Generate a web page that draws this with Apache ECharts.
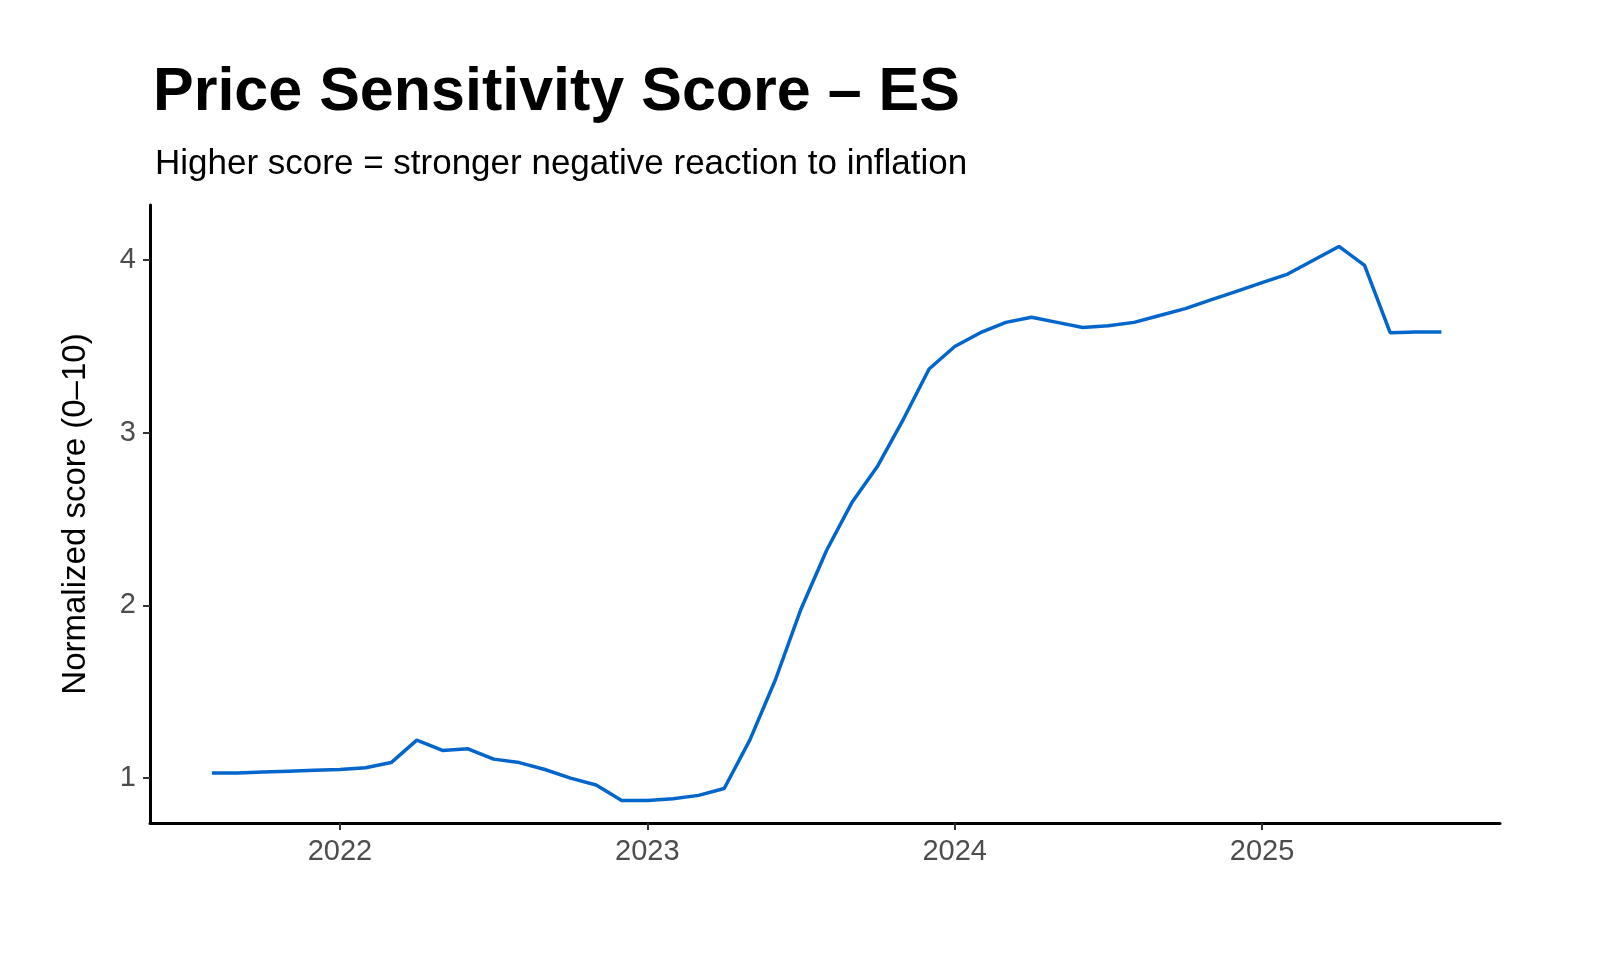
<!DOCTYPE html>
<html>
<head>
<meta charset="utf-8">
<script src="https://cdn.jsdelivr.net/npm/echarts@6/dist/echarts.min.js"></script>
<style>html,body{margin:0;background:#fff}#chart{width:1600px;height:960px}</style>
</head>
<body>
<div id="chart"></div>
<script>
// monthly scores, Aug 2021 .. Aug 2025
var months = []
for (var y = 2021; y <= 2025; y++) {
  for (var m = 1; m <= 12; m++) {
    if ((y == 2021 && m < 8) || (y == 2025 && m > 8)) continue
    months.push(y + '-' + (m < 10 ? '0' + m : m))
  }
}
var scores = [1.03, 1.03, 1.035, 1.04, 1.045,
  1.05, 1.06, 1.09, 1.22, 1.16, 1.17, 1.11, 1.09, 1.05, 1.00, 0.96, 0.87,
  0.87, 0.88, 0.90, 0.94, 1.22, 1.57, 1.98, 2.32, 2.60, 2.81, 3.08, 3.37,
  3.50, 3.58, 3.64, 3.67, 3.64, 3.61, 3.62, 3.64, 3.68, 3.72, 3.77, 3.82,
  3.87, 3.92, 4.00, 4.08, 3.97, 3.58, 3.585, 3.585]
var yearTicks = [2022, 2023, 2024, 2025]
var scoreTicks = [1, 2, 3, 4]

var seriesData = months.map(function (s, i) {
  var p = s.split('-')
  return [Number(p[0]) + (Number(p[1]) - 1) / 12, scores[i]]
})

var myChart = echarts.init(document.getElementById('chart'))
var labelFont = { color: '#4d4d4d', fontSize: 29, fontFamily: 'Liberation Sans' }
myChart.setOption({
  backgroundColor: '#fff',
  title: [{
    text: 'Price Sensitivity Score – ES', left: 148, top: 58,
    textStyle: { fontSize: 61, fontWeight: 'bold', color: '#000', fontFamily: 'Liberation Sans' }
  }, {
    text: 'Higher score = stronger negative reaction to inflation', left: 150, top: 142,
    textStyle: { fontSize: 35, fontWeight: 'normal', color: '#000', fontFamily: 'Liberation Sans' }
  }],
  grid: { left: 150, right: 100, top: 205, bottom: 137 },
  xAxis: {
    type: 'value', min: 2021.382, max: 2025.774,
    axisLine: { show: true, onZero: false, lineStyle: { color: '#000', width: 3 } },
    axisTick: { show: true, length: 7, customValues: yearTicks, lineStyle: { color: '#333', width: 2 } },
    axisLabel: Object.assign({ customValues: yearTicks, margin: 14, formatter: function (v) { return String(v) } }, labelFont),
    splitLine: { show: false }
  },
  yAxis: {
    type: 'value', min: 0.74, max: 4.32,
    name: 'Normalized score (0–10)', nameLocation: 'middle', nameGap: 58,
    nameTextStyle: { fontSize: 33, color: '#000', fontFamily: 'Liberation Sans' },
    axisLine: { show: true, lineStyle: { color: '#000', width: 3 } },
    axisTick: { show: true, length: 7, customValues: scoreTicks, lineStyle: { color: '#333', width: 2 } },
    axisLabel: Object.assign({ customValues: scoreTicks, margin: 14 }, labelFont),
    splitLine: { show: false }
  },
  series: [{
    type: 'line', data: seriesData, showSymbol: false,
    lineStyle: { color: '#0066cc', width: 3.5 }
  }]
})
</script>
</body>
</html>
